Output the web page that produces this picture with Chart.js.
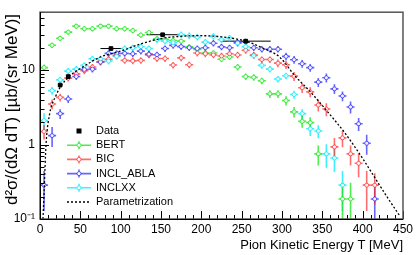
<!DOCTYPE html>
<html><head><meta charset="utf-8">
<script src="https://cdn.jsdelivr.net/npm/chart.js@4/dist/chart.umd.min.js"></script>
<style>html,body{margin:0;padding:0;background:#fff}canvas{display:block}</style>
</head><body>
<canvas id="c" width="416" height="255"></canvas>
<script>
// ---- data ----
const T_BINS = [5,15,25,35,45,55,65,75,85,95,105,115,125,135,145,155,165,175,185,195,205,215,225,235,245,255,265,275,285,295,305,315,325,335,345,355,365,375,385,395,405,415];
const BERT = [10.8,21.6,26.8,32.4,39,36,36,39,39,36, 36,34,29.6,32,26.3,26,25,24.5,20.5,19, 17,17,14,15,11,8.2,8.0,7.2,4.8,4.8, 3.9,2.75,2.05,1.97,0.75,null,null,0.186,0.186,null, null,null];
const BERT_ERR = [0.1,0.08,0.08,0.08,0.08,0.08,0.08,0.08,0.08,0.08, 0.08,0.08,0.08,0.08,0.08,0.08,0.08,0.08,0.08,0.08, 0.08,0.08,0.08,0.08,0.1,0.1,0.1,0.1,0.12,0.12, 0.14,0.16,0.18,0.18,0.3,0,0,0.65,0.65,0, 0,0];
const BIC = [1.5,3.5,4.3,7.8,8.9,9.8,11,13,14,15.7, 13.5,13.3,13.5,16,14.3,14.3,11.7,14.6,11.8,17, 16.6,16,15.5,16.6,16,18.5,16,13.9,13.9,12.4, 11.8,8.3,5.8,5.1,3.4,3.0,0.93,1.23,0.75,0.56, 0.285,0.285];
const BIC_ERR = [0.22,0.15,0.12,0.1,0.1,0.1,0.1,0.1,0.1,0.1, 0.1,0.1,0.1,0.1,0.1,0.1,0.1,0.1,0.1,0.1, 0.1,0.1,0.1,0.1,0.1,0.1,0.1,0.1,0.1,0.12, 0.12,0.14,0.15,0.15,0.18,0.2,0.32,0.25,0.3,0.35, 0.55,0.45];
const INCL_ABLA = [0.285,1.32,2.6,4.1,8.2,10.2,10.3,12.8,16.8,16.8, 16.8,16.6,18,16.4,16.1,19.5,21.5,20.7,20,19.5, 20,23,20.5,20,23.3,24,20,19.1,19.1,19.1, 15.3,13.8,12.2,10.8,6.9,7.9,5.6,4.5,3.2,1.9, 1.04,0.186];
const ABLA_ERR = [0.55,0.3,0.15,0.12,0.1,0.1,0.1,0.1,0.1,0.1, 0.1,0.1,0.1,0.1,0.1,0.1,0.1,0.1,0.1,0.1, 0.1,0.1,0.1,0.1,0.1,0.1,0.1,0.1,0.1,0.1, 0.12,0.12,0.12,0.12,0.14,0.14,0.15,0.15,0.18,0.2, 0.3,0.6];
const INCLXX = [2.1,5.3,7.4,9.7,10.3,11.6,14.2,14.2,13.2,15.3, 19.5,20,20.7,19.5,25.7,24.5,23.3,30,29,27.8, 23.8,28.4,25.7,27,23,20.7,15.6,11.6,10.3,7.6, 8.4,4.7,2.6,1.63,1.52,0.75,0.66,0.285,null,null, null,null];
const XX_ERR = [0.25,0.12,0.1,0.1,0.1,0.1,0.1,0.1,0.1,0.1, 0.1,0.1,0.1,0.1,0.1,0.1,0.1,0.1,0.1,0.1, 0.1,0.1,0.1,0.1,0.1,0.1,0.1,0.1,0.1,0.1, 0.1,0.12,0.15,0.2,0.2,0.35,0.35,0.55,0,0, 0,0];
const BIN_HALF = 5;
const DATA_T = [25,35,88,152,255];
const DATA_Y = [6.3,8.2,19.5,29.9,24.5];
const DATA_XERR = [2,2,13,20,31];
const DATA_YERR = [0.05,0.05,0.05,0.05,0.05];
const PARAM_T = [3.7,5,7.5,12,20,26,36,50,75,100,125,150,175,200,225,255,275,297,316,336,356,378,400,413,430,446];
const PARAM_Y = [0.1,0.22,1.0,2.6,4.6,6.1,8.2,10.5,15,18,22.5,26.5,28.5,29,28,24.5,20,15,8.4,5.0,2.8,1.43,0.65,0.39,0.2,0.11];
const X_TICKS = [0,50,100,150,200,250,300,350,400,450];
const Y_TICKS = [0.1,1,10];
const Y_TICK_LABELS = ['10\u207B\u00B9','1','10'];
const LEGEND_LABELS = ['Data','BERT','BIC','INCL_ABLA','INCLXX','Parametrization'];
const X_TITLE = 'Pion Kinetic Energy T [MeV]';
const Y_TITLE = 'd\u00B2\u03C3/(d\u03A9 dT) [\u00B5b/(sr MeV)]';

const FONT = '"Liberation Sans", Arial, Helvetica, sans-serif';
const COLORS = {
  BERT:'rgba(20,230,20,0.75)', BIC:'rgba(255,30,30,0.65)',
  INCL_ABLA:'rgba(20,20,255,0.65)', INCLXX:'rgba(0,235,255,0.75)'
};

function mcDataset(label, ys, errs, order){
  const pts = [];
  T_BINS.forEach((t,i)=>{ if(ys[i]!=null) pts.push({x:t, y:ys[i], e:errs[i], xe:BIN_HALF}); });
  return {label, type:'scatter', data:pts, showLine:false, order,
    pointRadius:2, pointHoverRadius:2, pointBorderWidth:1,
    borderColor:COLORS[label], backgroundColor:'rgba(255,255,255,0.9)', barColor:COLORS[label], errbars:true};
}

const datasets = [
  {label:'Data', type:'scatter', order:0, showLine:false,
   data:DATA_T.map((t,i)=>({x:t, y:DATA_Y[i], e:DATA_YERR[i], xe:DATA_XERR[i]})),
   pointStyle:'rect', pointRadius:2.6, pointHoverRadius:2.6, borderColor:'#000', backgroundColor:'#000',
   barColor:'#000', errbars:true},
  {label:'Parametrization', type:'line', order:1,
   data:PARAM_T.map((t,i)=>({x:t, y:PARAM_Y[i]})),
   borderColor:'#000', borderWidth:1.3, borderDash:[2,2], pointRadius:0, fill:false,
   cubicInterpolationMode:'monotone'},
  mcDataset('INCLXX', INCLXX, XX_ERR, 2),
  mcDataset('INCL_ABLA', INCL_ABLA, ABLA_ERR, 3),
  mcDataset('BIC', BIC, BIC_ERR, 4),
  mcDataset('BERT', BERT, BERT_ERR, 5)
];

const rootPlugin = {
  id:'rootStyle',
  beforeDatasetsDraw(chart){
    const {ctx, chartArea:a, scales:{x,y}} = chart;
    ctx.save();
    ctx.beginPath(); ctx.rect(a.left,a.top,a.right-a.left,a.bottom-a.top); ctx.clip();
    chart.data.datasets.forEach(ds=>{
      if(!ds.errbars) return;
      ctx.strokeStyle = ds.barColor; ctx.lineWidth = ds.label==='Data'?1:1.6;
      ds.data.forEach(p=>{
        const px=x.getPixelForValue(p.x), py=y.getPixelForValue(p.y);
        const x0=x.getPixelForValue(p.x-p.xe), x1=x.getPixelForValue(p.x+p.xe);
        const lo=Math.max(p.y*(1-p.e),1e-4), hi=p.y*(1+p.e);
        const y0=y.getPixelForValue(lo), y1=y.getPixelForValue(hi);
        ctx.beginPath();
        ctx.moveTo(x0,py); ctx.lineTo(x1,py);
        ctx.moveTo(px,y0); ctx.lineTo(px,y1);
        ctx.stroke();
      });
    });
    ctx.restore();
  },
  afterDatasetsDraw(chart){
    const {ctx, chartArea:a, scales:{x,y}} = chart;
    ctx.save();
    // ticks
    ctx.strokeStyle='#000'; ctx.lineWidth=1;
    ctx.beginPath();
    for(let t=0;t<=450;t+=10){
      const px=Math.round(x.getPixelForValue(t))+0.5;
      const len = t%50===0?8:4;
      ctx.moveTo(px,a.bottom); ctx.lineTo(px,a.bottom-len);
    }
    for(let d=-1; d<=1; d++){
      for(let m=1;m<=9;m++){
        const v=m*Math.pow(10,d);
        if(v<0.1-1e-9||v>y.max) continue;
        const py=Math.round(y.getPixelForValue(v))+0.5;
        const len = m===1?9:4.5;
        ctx.moveTo(a.left,py); ctx.lineTo(a.left+len,py);
      }
    }
    ctx.stroke();
    // frame
    ctx.strokeStyle='#555'; ctx.lineWidth=1.5;
    ctx.strokeRect(a.left,a.top,a.right-a.left,a.bottom-a.top);
    ctx.strokeStyle='#000'; ctx.lineWidth=1;
    ctx.beginPath();
    ctx.moveTo(a.left+0.5,a.top); ctx.lineTo(a.left+0.5,a.bottom+0.5); ctx.lineTo(a.right,a.bottom+0.5);
    ctx.stroke();
    ctx.restore();
  },
  afterDraw(chart){
    const {ctx} = chart;
    ctx.save();
    // legend
    const rowY0=131, dy=14.2, lx0=67, lx1=91, tx=96;
    ctx.font='11px '+FONT; ctx.textBaseline='middle'; ctx.textAlign='left'; ctx.fillStyle='#000';
    LEGEND_LABELS.forEach((lab,i)=>{
      const yy=rowY0+i*dy, cx=(lx0+lx1)/2;
      const ds=chart.data.datasets.find(d=>d.label===lab);
      if(lab==='Data'){
        ctx.fillStyle='#000'; ctx.fillRect(cx-2.5,yy-2.5,5,5);
      } else if(lab==='Parametrization'){
        ctx.strokeStyle='#000'; ctx.lineWidth=1.3; ctx.setLineDash([2,2]);
        ctx.beginPath(); ctx.moveTo(lx0,yy); ctx.lineTo(lx1,yy); ctx.stroke(); ctx.setLineDash([]);
      } else {
        ctx.strokeStyle=ds.barColor; ctx.lineWidth=1.6;
        ctx.beginPath(); ctx.moveTo(lx0,yy); ctx.lineTo(lx1,yy);
        ctx.moveTo(cx,yy-4); ctx.lineTo(cx,yy+4); ctx.stroke();
        ctx.lineWidth=1; ctx.fillStyle='#fff';
        ctx.beginPath(); ctx.arc(cx,yy,2,0,Math.PI*2); ctx.fill(); ctx.stroke();
      }
      ctx.fillStyle='#000';
      ctx.fillText(lab,tx,yy);
    });
    // axis titles
    ctx.fillStyle='#000';
    let fs=13; ctx.font=fs+'px '+FONT;
    let w=ctx.measureText(X_TITLE).width; fs=fs*163/w; ctx.font=fs.toFixed(2)+'px '+FONT;
    ctx.textAlign='right'; ctx.textBaseline='middle';
    ctx.fillText(X_TITLE,403,245);
    fs=13; ctx.font=fs+'px '+FONT;
    w=ctx.measureText(Y_TITLE).width; fs=fs*191/w; ctx.font=fs.toFixed(2)+'px '+FONT;
    ctx.translate(12,14); ctx.rotate(-Math.PI/2);
    ctx.textAlign='right'; ctx.textBaseline='middle';
    ctx.fillText(Y_TITLE,0,0);
    ctx.restore();
  }
};

new Chart(document.getElementById('c'), {
  data:{datasets},
  options:{
    responsive:false, animation:false, devicePixelRatio:1,
    layout:{padding:{top:5,right:13,left:0,bottom:0}},
    plugins:{legend:{display:false}, tooltip:{enabled:false}},
    scales:{
      x:{type:'linear', min:0, max:450,
        afterBuildTicks:s=>{s.ticks=X_TICKS.map(v=>({value:v}));},
        afterFit:s=>{s.height=36;},
        ticks:{font:{family:FONT,size:12}, color:'#000', padding:3, maxRotation:0, autoSkip:false},
        grid:{display:false, drawTicks:false}, border:{display:false}},
      y:{type:'logarithmic', min:0.1, max:60,
        afterBuildTicks:s=>{s.ticks=Y_TICKS.map(v=>({value:v}));},
        afterFit:s=>{s.width=40;},
        ticks:{font:{family:FONT,size:12}, color:'#000', padding:5, autoSkip:false,
          callback:(v)=>{const i=Y_TICKS.findIndex(t=>Math.abs(t-v)<1e-9); return i>=0?Y_TICK_LABELS[i]:'';}},
        grid:{display:false, drawTicks:false}, border:{display:false}}
    }
  },
  plugins:[rootPlugin]
});
</script>
</body></html>
